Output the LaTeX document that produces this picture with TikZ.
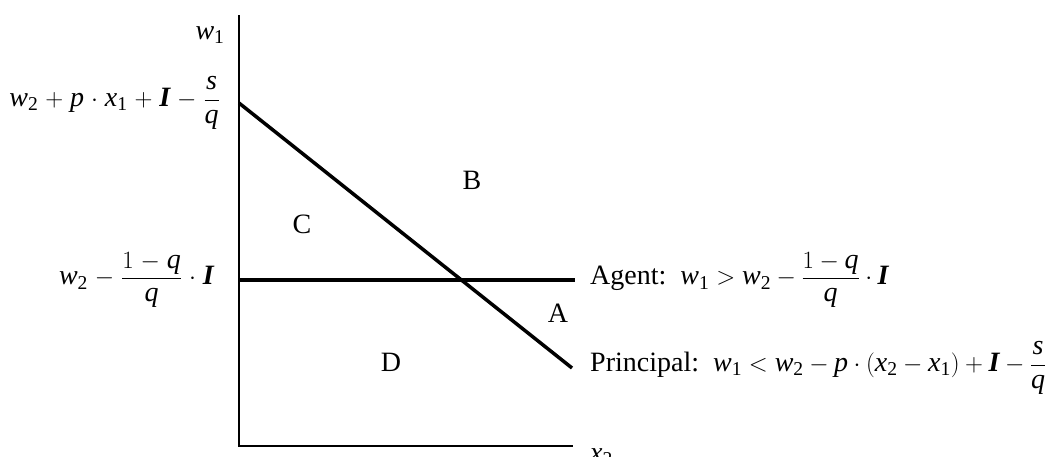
\documentclass[tikz,border=0pt]{standalone}
\usepackage{amsmath}
\usepackage{fontspec}
\setmainfont{Liberation Serif}
\newcommand\vi[1]{\text{\itshape #1}}
\newcommand\bI{\text{\bfseries\itshape I}}
\newcommand\sbt[1]{_{\text{#1}}}
\begin{document}
\begin{tikzpicture}[x=1pt,y=-1pt,font=\fontsize{28}{34}\selectfont,
  axisline/.style={line width=2pt},
  boundline/.style={line width=3.5pt},
  lbl/.style={inner sep=0pt}]
\useasboundingbox (0,0) rectangle (1057,456);
\coordinate (ytop) at (239,15);
\coordinate (O) at (239,446);
\coordinate (xend) at (573,446);
\coordinate (p0) at (239,103);
\coordinate (p1) at (572,368);
\coordinate (a0) at (239,280);
\coordinate (a1) at (575,280);
\draw[axisline] (ytop) -- (O) -- (xend);
\draw[boundline] (a0) -- (a1);
\draw[boundline] (p0) -- (p1);
% axis labels
\node[lbl,anchor=base] (w1) at (210,39) {$\vi{w}\sbt{1}$};
\node[lbl,anchor=base west] (x2) at (590,461) {$\vi{x}\sbt{2}$};
% intercept labels
\node[lbl,anchor=east] (int1) at (220,103) {\medmuskip=5mu$\vi{w}\sbt{2} + \vi{p}\cdot \vi{x}\sbt{1} + \bI - \dfrac{\vi{s}}{\vi{q}}$};
\node[lbl,anchor=east] (int2) at (214,280) {\medmuskip=5mu$\vi{w}\sbt{2} - \dfrac{1-\vi{q}}{\vi{q}}\cdot \bI$};
% region labels
\node[lbl] (B) at (472,180) {B};
\node[lbl] (C) at (302,224) {C};
\node[lbl] (D) at (391,362) {D};
\node[lbl] (A) at (558,313) {A};
% line labels
\node[lbl,anchor=west] (agent) at (590,280) {Agent:\ \ $\vi{w}\sbt{1} > \vi{w}\sbt{2} - \dfrac{1-\vi{q}}{\vi{q}}\cdot \bI$};
\node[lbl,anchor=west] (principal) at (590,368) {Principal:\ \ $\vi{w}\sbt{1} < \vi{w}\sbt{2} - \vi{p}\cdot\left(\vi{x}\sbt{2} - \vi{x}\sbt{1}\right) + \bI - \dfrac{\vi{s}}{\vi{q}}$};
\end{tikzpicture}
\end{document}
